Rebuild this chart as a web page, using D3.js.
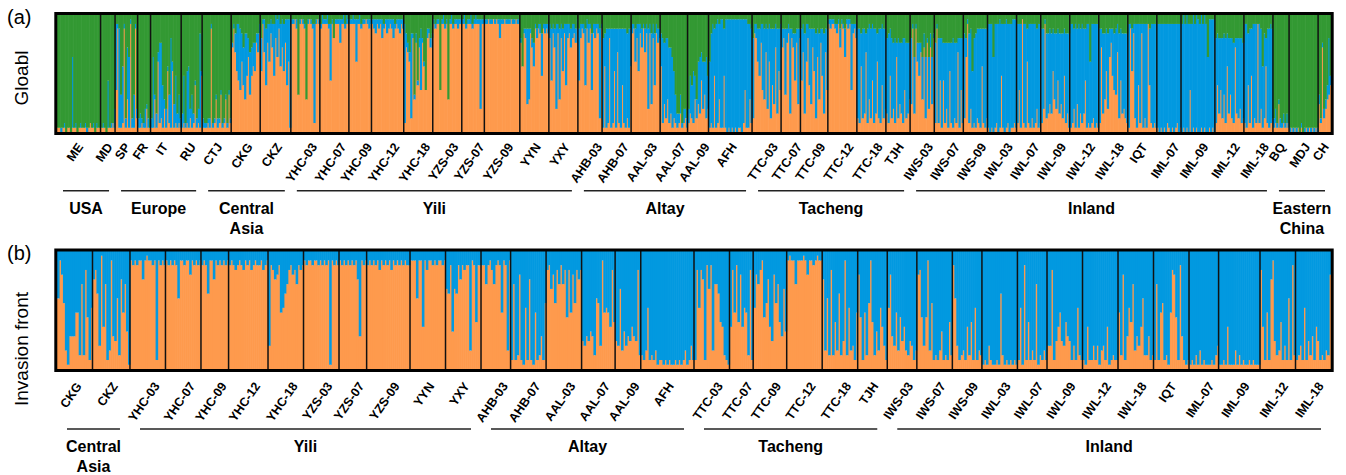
<!DOCTYPE html>
<html>
<head>
<meta charset="utf-8">
<script src="https://cdnjs.cloudflare.com/ajax/libs/d3/7.8.5/d3.min.js"></script>
<style>
  body { margin: 0; background: #fff; }
  text { font-family: "Liberation Sans", Arial, sans-serif; fill: #000; }
</style>
</head>
<body>
<svg id="chart" width="1346" height="475"></svg>
<script>
// membership per individual, one letter each: a = 0 ... z = 1 (steps of 0.04)
// panel (a), K = 3: orange and blue given, green is the rest
var popsA = ["ME","MD","SP","FR","IT","RU","CTJ","CKG","CKZ","YHC-03","YHC-07","YHC-09","YHC-12","YHC-18",
  "YZS-03","YZS-07","YZS-09","YYN","YXY","AHB-03","AHB-07","AAL-03","AAL-07","AAL-09","AFH",
  "TTC-03","TTC-07","TTC-09","TTC-12","TTC-18","TJH","IWS-03","IWS-07","IWS-09","IWL-03","IWL-07",
  "IWL-09","IWL-12","IWL-18","IQT","IML-07","IML-09","IML-12","IML-18","BQ","MDJ","CH"]

var orangeA = [
  "bbabb abbab bbabb bbbab cbbab bb", "bbbab bbcb", "jwbbc wbhbx bbwd", "bbcbb fbb",
  "bbhbp cdbfb ncbnb cbcb", "bcbcb dbckb cbm", "bbbcb wbchb cibch bic", "swrnl jpkhm qimon trv",
  "nxrkt pvsmu qwosn tkpb", "xxywi xyxwh xyxwc xyx", "wxxxx wlxux xxtxx wxx", "xxxxp xxwxx yxwx",
  "xwvxw xuwxv wxwuw xwvxw", "csrpd uhtks jtoju vsu", "xwxxj xxwxh xxwxx wxx", "xxwxx xwxxx xfxx",
  "xxyxx yxyxu xxyxx xyxxy xx", "tovug hvsow uwvmw vwv", "ulvsf vhunv kuvsu vtw", "luwvk wtwjv uwvdw",
  "bobcu bcnbr cbkcb dbo", "vwpun vswrv fvguk vtu", "ocgdh cebdc bcebc db", "cedch dgelf idf",
  "bcbmb chbbm babab ababb acjbb hc", "dvupm tjhrf pdkgs enj", "suitv euslt gu", "lrepu kgsnd qhtme rj",
  "xwxxw vxsxw qxwxj vwu", "dcode rchdl cepdc kdf", "ecmdf cqdge cjdeh", "gwewp mrhsd tfsgu",
  "cwclb lcfbn cbdcr bjc", "dqxcf bcbdc bocbd", "babab cabmb abcab bcb", "cjbyc bpcbd bcfbc",
  "cfxde genhf legdm ceb", "bcfbg becel bcbcd bcb", "csehn fqtmj irdle fdc", "bwnvd bkcvb dbxkc bcb",
  "babab acbab abcab", "ababa jabab aabab aabab a", "ckejd icoei dcsed fcd", "cbkcm bdcxc fbdoc bcd",
  "bcbgb bcbcb", "ababa babaa babab aba", "gcsdf hik"]

var blueA = [
  "aabab aaaap abaab aabba aabab aa", "abaak abae", "obvhm bclpb chbc", "cdbbe bca",
  "cpbdc rqjce bgtcf kdgc", "dkbln chcbc dub", "cbbbc bbbbc bbbbb bbb", "bbekm ngioj ejgfg cec",
  "hbhme idflg idjgk fojx", "bbaca babba babbv bab", "bcbbc bmbab bbfbc bcb", "bbcbj bcbbb abcb",
  "bcdbc bebbd cbceb bcdbc", "vdccs bbcbc nbbac bcb", "bbbba bcbba bcbbb cbb", "bcbbb cbbcb btbb",
  "bbabb ababe bbabb babba bb", "babcq pbcfb cbcjb cbc", "dlces cpdjc ndced cdc", "ldbcm cebmc dbctb",
  "thvuc vujvf uvmuv svi", "cbhdk cebfc rcpdl cdc", "hsnrn qopkg dcebd cc", "dihlf ejmgk hnh",
  "otwkw wqxxk xyxyx yxyxx ywpxw qu", "rcdhk eopgr itmqf sjo", "ecodc scdkd qc", "lgrid mqejs godkr fn",
  "bcbbb cbebb gbcbo cbd", "tuhts euqtm usgtu ntr", "qtkro sdrnp slqpm", "obmbe hcjdn bldkb",
  "rbsjt irosg rtqrd tls", "sebtr msutu viuvt", "wxwqw vxxlw xxvxw xwx", "vowav whvwu wvrwv",
  "urbsr qrjoq lrpsk tru", "wvrwq wsvsl wvovu wvw", "ueroj qgdkm ogslr qst", "wbjcu wnvcw uwamv wvw",
  "wxwxw xvwxw xwvxw", "xyxyx oxyxy yxyxy xqxyx y", "slqlr nshqm rrcqr psq", "vwluk wuvav rnsgu vvt",
  "cdbbc bcbcb", "babab aabab ababa bab", "cbbcc dmc"]

// panel (b), K = 2: orange given, blue is the rest
var popsB = ["CKG","CKZ","YHC-03","YHC-07","YHC-09","YHC-12","YHC-18","YZS-03","YZS-07","YZS-09","YYN","YXY",
  "AHB-03","AHB-07","AAL-03","AAL-07","AAL-09","AFH","TTC-03","TTC-07","TTC-09","TTC-12","TTC-18","TJH",
  "IWS-03","IWS-07","IWS-09","IWL-03","IWL-07","IWL-09","IWL-12","IWL-18","IQT","IML-07","IML-09","IML-12","IML-18"]

var orangeB = [
  "pxuoe bhhhm mdsdv lcn", "tvqfy jscex hgpdt msib", "xwxwx xtxyx xwxcx wxw", "xwxwx wpxxw xxuxw xwx",
  "wxwqx xtxwx wxwx", "wxwvw xwvxw xvwxw wxvwx", "fwvtu wmnqs vwuvs wvw", "xwxxw xxwxw xwxbx wxw",
  "xwxwx wxwxt hxwx", "wxwxw xvxwx wxvxw xwxwx ww", "xxxpx xjxvx xwxwx xwx", "rqwir qwtwv wwexw kww",
  "wwswx vswxw mxwex", "cscdu cbnct cbmcd hco", "vwruo vswsv lvmuo vtv", "gfhgi hdpof xmnmj vk",
  "gfrei fhgjh gvd", "dcenc dcebc cbcbc bbcbc bcebc fc", "cvnvt cwrwe ssqkj dcb", "jvmwk ujnmd vc",
  "nusvx lotjg uoskh ri", "xyxxs xxxyx uxxwx yxx", "tepdv dkeqd gxdne fcm", "ulcmd oxkdi enjfc",
  "nuhfm elgje dgfce", "uvlfl xeocd ceicd ckd", "wpfcd ecjdk cnced", "bcbfc bbcbq dbcbc bcb",
  "cnbwc kcecs bdcec", "ffvcg jmgfk hgcfc ndc", "cbjcc fcfbe fcjbc dcc", "mduch nkseh fjpdd hcd",
  "cscmo cdbmv ulcwh cbc", "bcbdb ebcbb bcbdf", "bbcbj bbbeb dbcbb cbcbb b", "vjcmc txgde kcfcp cwd",
  "cdfcn cgdhc jgcdc edu"]

// regions: name, first and last population
var groupsA = ["USA", "Europe", "Central Asia", "Yili", "Altay", "Tacheng", "Inland", "Eastern China"]
var groupFirstA = ["ME", "SP", "CTJ", "YHC-03", "AHB-03", "TTC-03", "IWS-03", "BQ"]
var groupLastA = ["MD", "RU", "CKZ", "YXY", "AFH", "TJH", "IML-18", "CH"]

var groupsB = ["Central Asia", "Yili", "Altay", "Tacheng", "Inland"]
var groupFirstB = ["CKG", "YHC-03", "AHB-03", "TTC-03", "IWS-03"]
var groupLastB = ["CKZ", "YXY", "AFH", "TJH", "IML-18"]

var colors = { orange: "#FE9A4D", blue: "#0299E0", green: "#339933" }

var svg = d3.select("#chart")

function decode(s) {
  return s.replace(/\s/g, "").split("").map(function(c) { return (c.charCodeAt(0) - 97) / 25 })
}

var ang = 55 * Math.PI / 180

function drawPanel(cfg) {
  var rows = [], spans = []
  cfg.pops.forEach(function(name, p) {
    var o = decode(cfg.orange[p])
    var b = cfg.blue ? decode(cfg.blue[p]) : null
    var start = rows.length
    o.forEach(function(v, j) {
      var bl = b ? Math.min(b[j], 1 - v) : 1 - v
      rows.push({ id: rows.length, orange: v, blue: bl, green: Math.max(0, 1 - v - bl) })
    })
    spans.push({ name: name, start: start, end: rows.length - 1 })
  })

  var x = d3.scaleBand().domain(rows.map(function(d) { return d.id })).range([57, 1331]).padding(0)
  var y = d3.scaleLinear().domain([0, 1]).range([cfg.bottom, cfg.top])
  var bw = x.bandwidth()

  var g = svg.append("g")

  // bars
  var series = d3.stack().keys(cfg.keys)(rows)
  g.selectAll("g.layer")
    .data(series)
    .enter().append("g")
    .attr("fill", function(d) { return colors[d.key] })
    .selectAll("rect")
    .data(function(d) { return d })
    .enter().append("rect")
    .attr("x", function(d) { return x(d.data.id) })
    .attr("width", bw + 0.6)
    .attr("y", function(d) { return y(d[1]) })
    .attr("height", function(d) { return Math.max(0, y(d[0]) - y(d[1])) })

  // population separators
  g.selectAll("line.sep")
    .data(spans.slice(1))
    .enter().append("line")
    .attr("x1", function(d) { return x(d.start) })
    .attr("x2", function(d) { return x(d.start) })
    .attr("y1", cfg.top)
    .attr("y2", cfg.bottom)
    .attr("stroke", "#111")
    .attr("stroke-width", 1.5)

  // frame
  g.append("rect")
    .attr("x", 55.8)
    .attr("y", cfg.top - 1)
    .attr("width", 1332.2 - 55.8)
    .attr("height", cfg.bottom - cfg.top + 2)
    .attr("fill", "none")
    .attr("stroke", "#000")
    .attr("stroke-width", 3)

  // population labels
  g.selectAll("text.pop")
    .data(spans)
    .enter().append("text")
    .attr("text-anchor", "end")
    .style("font-size", "12.5px")
    .style("font-weight", "bold")
    .text(function(d) { return d.name })
    .attr("transform", function(d) {
      var L = this.getComputedTextLength(), h = 9
      var cx = (x(d.start) + x(d.end) + bw) / 2
      var xe = cx - 4 + (L * Math.cos(ang) + h * Math.sin(ang)) / 2
      var ye = cfg.labelTop + h * Math.cos(ang)
      return "translate(" + xe + "," + ye + ") rotate(-55)"
    })

  // region lines and names
  var byName = {}
  spans.forEach(function(s) { byName[s.name] = s })
  cfg.groups.forEach(function(name, i) {
    var x1 = x(byName[cfg.first[i]].start) + cfg.inset
    var x2 = x(byName[cfg.last[i]].end) + bw - cfg.inset
    g.append("line")
      .attr("x1", x1).attr("x2", x2)
      .attr("y1", cfg.lineY).attr("y2", cfg.lineY)
      .attr("stroke", "#222")
      .attr("stroke-width", 1.4)
    var t = g.append("text")
      .attr("text-anchor", "middle")
      .style("font-size", "16px")
      .style("font-weight", "bold")
    name.split(" ").forEach(function(w, k) {
      t.append("tspan")
        .attr("x", (x1 + x2) / 2)
        .attr("y", cfg.lineY + 23 + k * 20)
        .text(w)
    })
  })

  // panel letter and title
  svg.append("text")
    .attr("x", 7)
    .attr("y", cfg.top + 9)
    .style("font-size", "20px")
    .text(cfg.letter)
  svg.append("text")
    .attr("transform", "translate(28," + cfg.titleY + ") rotate(-90)")
    .attr("text-anchor", "middle")
    .style("font-size", "19px")
    .text(cfg.title)
}

drawPanel({
  pops: popsA, orange: orangeA, blue: blueA, keys: ["orange", "blue", "green"],
  top: 14.5, bottom: 132.5, labelTop: 141.7,
  groups: groupsA, first: groupFirstA, last: groupLastA, inset: 6, lineY: 190.7,
  letter: "(a)", title: "Gloabl", titleY: 78
})

drawPanel({
  pops: popsB, orange: orangeB, blue: null, keys: ["orange", "blue"],
  top: 251, bottom: 369.5, labelTop: 381,
  groups: groupsB, first: groupFirstB, last: groupLastB, inset: 10, lineY: 429,
  letter: "(b)", title: "Invasion front", titleY: 349
})
</script>
</body>
</html>
